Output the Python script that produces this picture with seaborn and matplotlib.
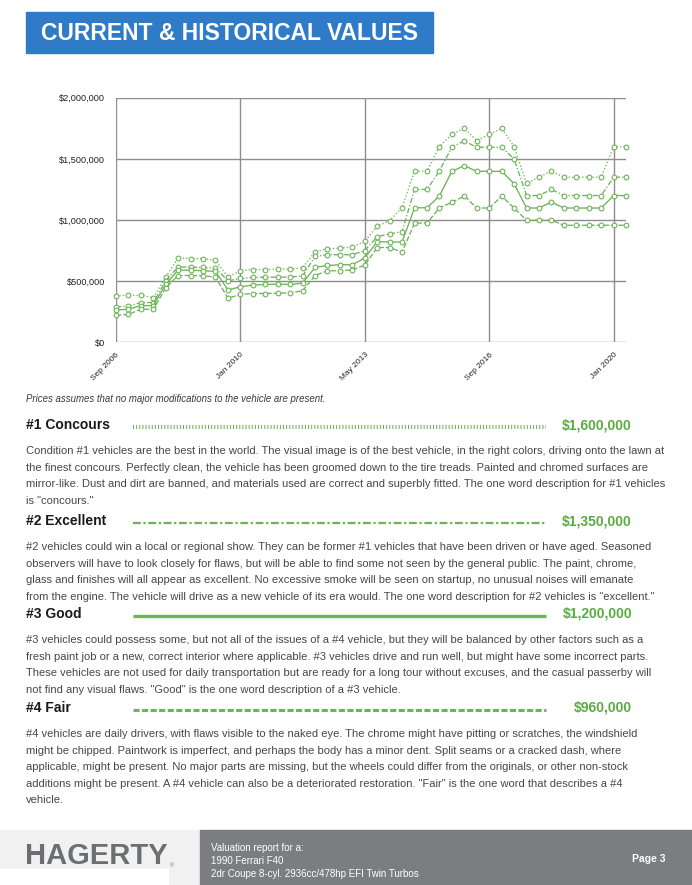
import numpy as np
import pandas as pd
import seaborn as sns
import matplotlib.pyplot as plt
from matplotlib.patches import Rectangle
from matplotlib.ticker import FuncFormatter

# valuation history, one point every 4 months (values in $ thousands)
dates = pd.date_range("2006-09-01", periods=42, freq="4MS")

concours = [380, 385, 385, 365, 535, 690, 685, 685, 670, 535, 585, 595, 595, 600,
            598, 610, 740, 765, 770, 780, 825, 950, 995, 1100, 1400, 1400, 1600, 1700,
            1750, 1650, 1700, 1750, 1600, 1300, 1350, 1400, 1350, 1350, 1350, 1350, 1600, 1600]
excellent = [290, 295, 325, 325, 505, 615, 615, 612, 607, 503, 522, 530, 533, 533,
             533, 544, 702, 716, 716, 716, 750, 865, 886, 905, 1250, 1250, 1400, 1595,
             1646, 1595, 1595, 1595, 1500, 1200, 1200, 1250, 1200, 1200, 1200, 1200, 1350, 1350]
good = [265, 270, 300, 300, 475, 590, 590, 585, 580, 428, 454, 468, 473, 475,
        473, 484, 612, 628, 634, 634, 689, 823, 820, 820, 1100, 1100, 1196, 1398,
        1444, 1398, 1398, 1398, 1297, 1098, 1098, 1147, 1098, 1098, 1098, 1098, 1200, 1200]
fair = [220, 228, 270, 270, 445, 546, 546, 544, 533, 361, 391, 399, 399, 402,
        404, 421, 546, 585, 585, 593, 630, 775, 775, 736, 975, 975, 1098, 1145,
        1196, 1098, 1098, 1196, 1098, 998, 998, 998, 957, 957, 957, 957, 957, 957]

conditions = ["#1 Concours", "#2 Excellent", "#3 Good", "#4 Fair"]
current_values = ["$1,600,000", "$1,350,000", "$1,200,000", "$960,000"]

tick_dates = ["2006-09-01", "2010-01-01", "2013-05-01", "2016-09-01", "2020-01-01"]
tick_labels = ["Sep 2006", "Jan 2010", "May 2013", "Sep 2016", "Jan 2020"]
y_ticks = [0, 500000, 1000000, 1500000, 2000000]

descriptions = [
    ["Condition #1 vehicles are the best in the world. The visual image is of the best vehicle, in the right colors, driving onto the lawn at",
     "the finest concours. Perfectly clean, the vehicle has been groomed down to the tire treads. Painted and chromed surfaces are",
     "mirror-like. Dust and dirt are banned, and materials used are correct and superbly fitted. The one word description for #1 vehicles",
     "is \"concours.\""],
    ["#2 vehicles could win a local or regional show. They can be former #1 vehicles that have been driven or have aged. Seasoned",
     "observers will have to look closely for flaws, but will be able to find some not seen by the general public. The paint, chrome,",
     "glass and finishes will all appear as excellent. No excessive smoke will be seen on startup, no unusual noises will emanate",
     "from the engine. The vehicle will drive as a new vehicle of its era would. The one word description for #2 vehicles is \"excellent.\""],
    ["#3 vehicles could possess some, but not all of the issues of a #4 vehicle, but they will be balanced by other factors such as a",
     "fresh paint job or a new, correct interior where applicable. #3 vehicles drive and run well, but might have some incorrect parts.",
     "These vehicles are not used for daily transportation but are ready for a long tour without excuses, and the casual passerby will",
     "not find any visual flaws. \"Good\" is the one word description of a #3 vehicle."],
    ["#4 vehicles are daily drivers, with flaws visible to the naked eye. The chrome might have pitting or scratches, the windshield",
     "might be chipped. Paintwork is imperfect, and perhaps the body has a minor dent. Split seams or a cracked dash, where",
     "applicable, might be present. No major parts are missing, but the wheels could differ from the originals, or other non-stock",
     "additions might be present. A #4 vehicle can also be a deteriorated restoration. \"Fair\" is the one word that describes a #4",
     "vehicle."],
]

df = pd.DataFrame({
    "date": np.tile(dates, 4),
    "value": np.array(concours + excellent + good + fair) * 1000,
    "condition": np.repeat(conditions, len(dates)),
})

GREEN = "#6db35a"
PRICE_GREEN = "#58ac40"
GRID = "#8e8e8e"
TEXT = "#474747"

sns.set_style("white")
plt.rcParams["font.family"] = ["Liberation Sans", "DejaVu Sans"]

fig = plt.figure(figsize=(6.92, 8.85), dpi=100)

# page layer in pixel coordinates
page = fig.add_axes([0, 0, 1, 1])
page.set_xlim(0, 692)
page.set_ylim(885, 0)
page.axis("off")

# title banner
page.add_patch(Rectangle((26, 12), 407, 41, color="#2f7bc7"))
page.text(229.5, 33, "CURRENT & HISTORICAL VALUES", color="white", fontsize=16.5,
          fontweight="bold", ha="center", va="center")

# chart
ax = fig.add_axes([116 / 692, 1 - 342.3 / 885, 510 / 692, 244.6 / 885])
ax.set_facecolor("none")

line_dashes = {"#1 Concours": (1, 1.6), "#2 Excellent": (4, 1.5, 1, 1.5),
               "#3 Good": "", "#4 Fair": (4, 1.5)}
sns.lineplot(data=df, x="date", y="value", hue="condition", style="condition",
             palette=[GREEN] * 4, dashes=line_dashes,
             markers={c: "o" for c in conditions}, markersize=3.4,
             markeredgecolor=GREEN, markerfacecolor="white", markeredgewidth=0.8,
             linewidth=0.95, legend=False, ax=ax)
for ln in ax.lines:
    ln.set_clip_on(False)

ax.set_xlim(dates[0], dates[-1])
ax.set_ylim(0, 2000000)
ax.set_xticks(pd.to_datetime(tick_dates))
ax.set_xticklabels(tick_labels, rotation=45, ha="right", rotation_mode="anchor")
ax.set_yticks(y_ticks)
ax.yaxis.set_major_formatter(FuncFormatter(lambda v, p: "\\$" + f"{int(v):,}"))
ax.tick_params(axis="both", colors=GRID, width=1, labelsize=6, labelcolor="#222222")
ax.tick_params(axis="y", length=6, pad=2, labelsize=6.6)
ax.tick_params(axis="x", length=4.5, pad=2)
ax.grid(True, color=GRID, linewidth=1)
ax.set_axisbelow(True)
for s in ax.spines.values():
    s.set_visible(False)
ax.set_xlabel("")
ax.set_ylabel("")

page.text(26, 399, "Prices assumes that no major modifications to the vehicle are present.",
          fontsize=6.9, style="italic", color="#3a3a3a", va="center")

# condition sections
heading_y = [425, 521, 614, 708]
swatch_style = [dict(lw=3, dashes=(0.25, 0.5)), dict(lw=1.6, dashes=(3.5, 1.2, 1, 1.2)),
                dict(lw=2.4, linestyle="-"), dict(lw=2.2, dashes=(2, 0.8))]
for cond, price, lines, hy, st in zip(conditions, current_values, descriptions, heading_y, swatch_style):
    page.text(26, hy, cond, fontsize=10, fontweight="bold", color="#1a1a1a", va="center")
    page.plot([133, 546], [hy + 2, hy + 2], color=GREEN, solid_capstyle="butt", **st)
    page.text(632, hy, "\\" + price, fontsize=10, fontweight="bold", color=PRICE_GREEN,
              ha="right", va="center")
    for k, txt in enumerate(lines):
        page.text(26, hy + 26 + 16.6 * k, txt, fontsize=8, color=TEXT, va="center")

# footer
page.add_patch(Rectangle((0, 830), 200, 55, color="#f1f1f1"))
page.add_patch(Rectangle((0, 869), 168, 16, color="white"))
page.add_patch(Rectangle((200, 830), 492, 55, color="#7b7d80"))
page.text(25, 856, "HAGERTY", fontsize=21, fontweight="bold", color="#6d6e71", va="center")
page.text(170, 866, "®", fontsize=3.5, color="#6d6e71", va="center")
footer_lines = ["Valuation report for a:", "1990 Ferrari F40",
                "2dr Coupe 8-cyl. 2936cc/478hp EFI Twin Turbos"]
for k, txt in enumerate(footer_lines):
    page.text(211, 848 + 13 * k, txt, fontsize=7.0, color="white", va="center")
page.text(665, 859, "Page 3", fontsize=7.5, fontweight="bold", color="white",
          ha="right", va="center")

fig.savefig("out.png", dpi=100)
